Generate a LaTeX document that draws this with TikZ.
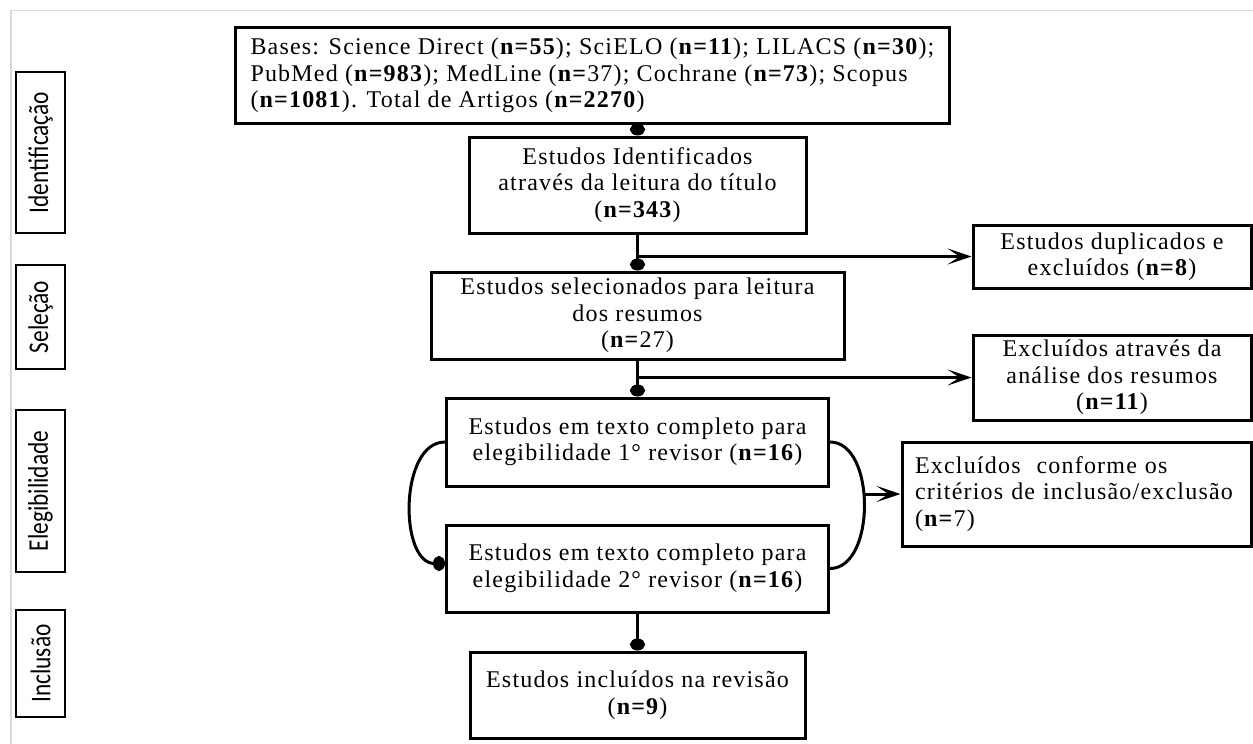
\documentclass[tikz,border=0pt]{standalone}
\usepackage{fontspec}
\setmainfont[LetterSpace=5]{Liberation Serif}
\newfontfamily\stagefont[FakeStretch=0.82]{Carlito}
\usetikzlibrary{arrows.meta}
\begin{document}
\begin{tikzpicture}[x=1pt,y=-1pt,
  box/.style={draw, line width=3pt, inner sep=0pt, align=center,
    font=\fontsize{24}{26.5}\selectfont},
  stagebox/.style={draw, line width=2.8pt, rotate=90, inner sep=0pt,
    font=\stagefont\fontsize{28.5}{30}\selectfont, minimum height=49pt},
  conn/.style={line width=3pt},
  dotend/.style={conn, -{Circle[length=12pt,width=15pt]}},
  arrowend/.style={conn, -{Stealth[length=24pt,width=16pt,inset=12pt]}}]
\useasboundingbox (0,0) rectangle (1253,744);
\draw[black!15, line width=1.5pt] (11,744) -- (11,10.5) -- (1253,10.5);

% stage labels
\node[stagebox, minimum width=161pt] (s1) at (40.5,152.5) {Identificação};
\node[stagebox, minimum width=104pt] (s2) at (40.5,317) {Seleção};
\node[stagebox, minimum width=162pt] (s3) at (40.5,491) {Elegibilidade};
\node[stagebox, minimum width=107pt] (s4) at (40.5,663.5) {Inclusão};

% main boxes
\node[box, anchor=north west, align=left, inner xsep=15pt, minimum height=96pt] (bases) at (234,26)
  {Bases: Science Direct (\textbf{n=55}); SciELO (\textbf{n=11}); LILACS (\textbf{n=30});\\
   PubMed (\textbf{n=983}); MedLine (\textbf{n=}37); Cochrane (\textbf{n=73}); Scopus\\
   (\textbf{n=1081}). Total de Artigos (\textbf{n=2270})};
\node[box, minimum width=337pt, minimum height=96pt] (ident) at (637.5,185)
  {Estudos Identificados\\através da leitura do título\\(\textbf{n=343})};
\node[box, minimum width=413pt, minimum height=87pt] (selec) at (637.5,315.5)
  {Estudos selecionados para leitura\\dos resumos\\(\textbf{n=}27)};
\node[box, minimum width=382pt, minimum height=88pt] (elig1) at (637.5,442)
  {Estudos em texto completo para\\elegibilidade 1° revisor (\textbf{n=16})};
\node[box, minimum width=382pt, minimum height=87pt] (elig2) at (637.5,568.5)
  {Estudos em texto completo para\\elegibilidade 2° revisor (\textbf{n=16})};
\node[box, minimum width=335pt, minimum height=86pt] (incl) at (637.5,695)
  {Estudos incluídos na revisão\\(\textbf{n=9})};
\node[box, minimum width=278pt, minimum height=63pt] (dup) at (1112,256.5)
  {Estudos duplicados e\\excluídos (\textbf{n=8})};
\node[box, minimum width=278pt, minimum height=85pt] (anal) at (1112,377.5)
  {Excluídos através da\\análise dos resumos\\(\textbf{n=11})};
\node[box, minimum width=349pt, minimum height=104pt, align=left, inner xsep=13pt, text width=323pt] (crit) at (1076.5,494)
  {Excluídos~ conforme os\\critérios de inclusão/exclusão\\(\textbf{n=}7)};

% connectors
\draw[dotend] (ident.north |- bases.south) -- (ident.north);
\draw[dotend] (ident.south) -- (selec.north);
\coordinate (b1) at (ident.south |- dup.west);
\draw[arrowend] (b1) -- (dup.west);
\draw[dotend] (selec.south) -- (elig1.north);
\coordinate (b2) at (selec.south |- anal.west);
\draw[arrowend] (b2) -- (anal.west);
\draw[dotend] (elig1.west) .. controls +(-46,0) and +(-46,0) .. ([yshift=5pt]elig2.west);
\draw[conn] (elig1.east) .. controls +(46,0) and +(46,0) .. (elig2.east);
\coordinate (rmid) at (crit.west -| 863,0);
\draw[arrowend] (rmid) -- (crit.west);
\draw[dotend] (elig2.south) -- (incl.north);
\end{tikzpicture}
\end{document}
